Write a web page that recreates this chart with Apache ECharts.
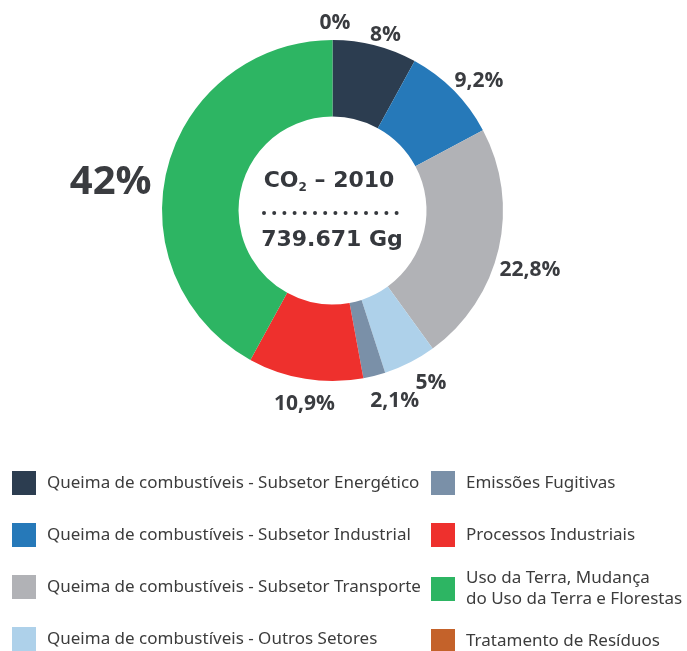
<!DOCTYPE html>
<html>
<head>
<meta charset="utf-8">
<script src="https://cdn.jsdelivr.net/npm/echarts@6/dist/echarts.min.js"></script>
<style>
html,body{margin:0;padding:0;background:#fff;}
#chart{width:687px;height:651px;}
</style>
</head>
<body>
<div id="chart"></div>
<script>
const categories = [
  'Queima de combustíveis - Subsetor Energético',
  'Queima de combustíveis - Subsetor Industrial',
  'Queima de combustíveis - Subsetor Transporte',
  'Queima de combustíveis - Outros Setores',
  'Emissões Fugitivas',
  'Processos Industriais',
  'Uso da Terra, Mudança\ndo Uso da Terra e Florestas',
  'Tratamento de Resíduos'
];
const shares = [8, 9.2, 22.8, 5, 2.1, 10.9, 42, 0];
const colors = ['#2c3d50', '#2679b9', '#b1b2b6', '#aed1ea', '#7a90a8', '#ee302d', '#2db563', '#c4622a'];
const centerTitle = 'CO₂ – 2010';
const centerTotal = '739.671 Gg';

// small label nudges (style only, in px) relative to the default outside placement
const labelNudge = [[-12, -3], [-10, -4], [-12, 19], [-3, 13], [-11, 17], [36, 17], [-3, 17], [23, -9]];

const chart = echarts.init(document.getElementById('chart'), null, {renderer: 'canvas'});

const data = categories.map((n, i) => ({
  name: n,
  value: shares[i],
  itemStyle: {color: colors[i]},
  label: i === 6 ? {fontSize: 40, fontWeight: 'bold'} : {}
}));

const legendText = {fontFamily: 'Noto Sans', fontSize: 17, color: '#3c3c3c', lineHeight: 21, padding: [0, 0, 0, 6]};
const legendBase = {
  orient: 'vertical', icon: 'rect', itemWidth: 24, itemHeight: 24, itemGap: 28,
  padding: 0, textStyle: legendText, selectedMode: false
};

chart.setOption({
  backgroundColor: '#ffffff',
  animation: false,
  legend: [
    Object.assign({}, legendBase, {left: 12, top: 471, data: categories.slice(0, 4)}),
    Object.assign({}, legendBase, {left: 431, top: 471, data: categories.slice(4, 6)}),
    Object.assign({}, legendBase, {left: 431, top: 568, data: categories.slice(6, 7)}),
    Object.assign({}, legendBase, {left: 431, top: 629, data: categories.slice(7, 8)})
  ],
  series: [{
    type: 'pie',
    center: [332.5, 210.5],
    radius: [94, 170.5],
    startAngle: 90,
    clockwise: true,
    avoidLabelOverlap: false,
    stillShowZeroSum: true,
    label: {
      show: true,
      position: 'outside',
      fontFamily: 'Open Sans',
      fontWeight: 'bold',
      fontSize: 21,
      color: '#3a3c40',
      formatter: p => String(p.value).replace('.', ',') + '%'
    },
    labelLine: {show: false, length: 8, length2: 0},
    labelLayout: p => {
      const d = labelNudge[p.dataIndex];
      return {dx: d[0], dy: d[1]};
    },
    data: data
  }],
  graphic: [
    {
      type: 'text', x: 329, y: 181,
      style: {
        text: '{a|CO}{s|2}{a| – 2010}',
        align: 'center', verticalAlign: 'middle',
        rich: {
          a: {fontFamily: 'DejaVu Sans', fontWeight: 'bold', fontSize: 22, fill: '#35383d'},
          s: {fontFamily: 'DejaVu Sans', fontWeight: 'bold', fontSize: 12, fill: '#35383d', padding: [13, 0, 0, 0]}
        }
      }
    },
    {
      type: 'line',
      shape: {x1: 264, y1: 213, x2: 397, y2: 213},
      style: {stroke: '#35383d', lineWidth: 4, lineDash: [0, 10.2], lineCap: 'round'}
    },
    {
      type: 'text', x: 332, y: 240,
      style: {text: centerTotal, align: 'center', verticalAlign: 'middle', fontFamily: 'DejaVu Sans', fontWeight: 'bold', fontSize: 22, fill: '#35383d'}
    }
  ]
});
</script>
</body>
</html>
